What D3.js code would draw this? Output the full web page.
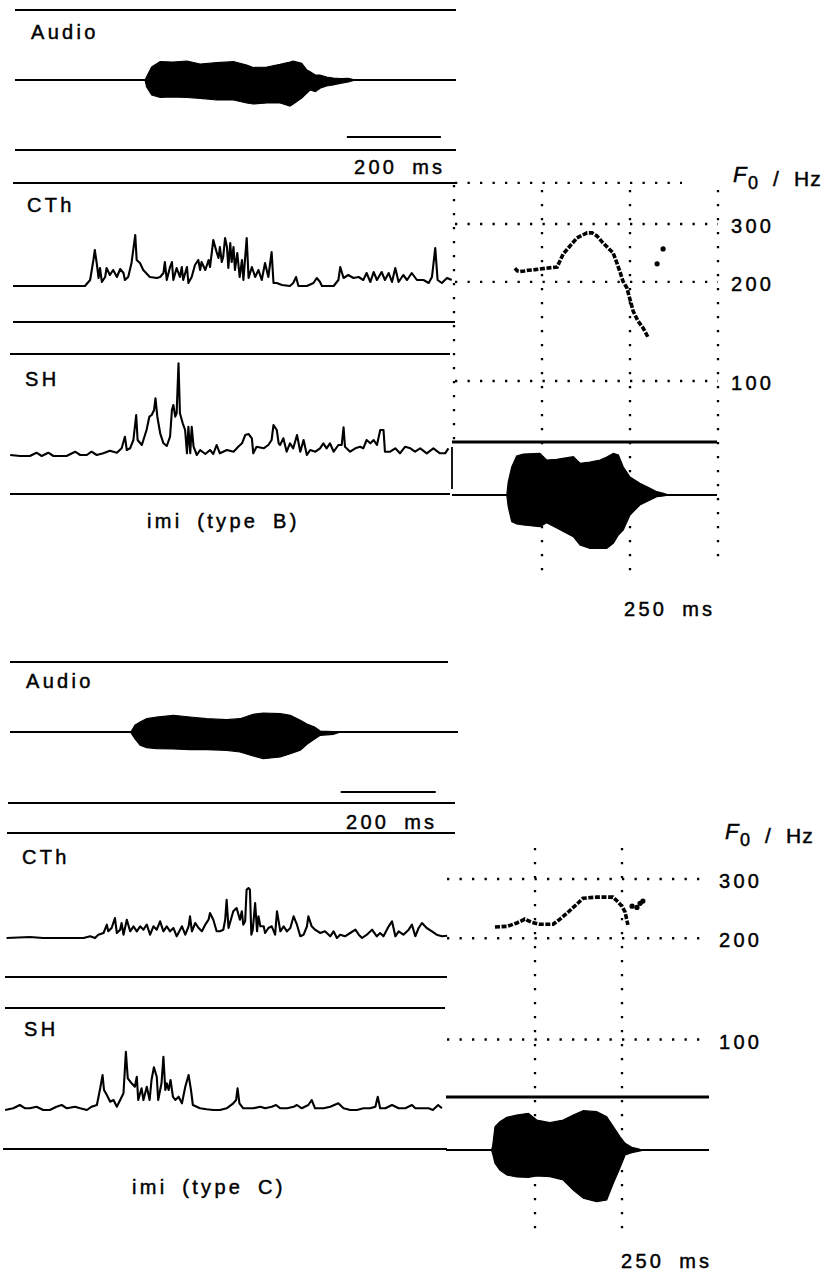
<!DOCTYPE html>
<html><head><meta charset="utf-8">
<script src="https://cdn.jsdelivr.net/npm/d3@7"></script>
<style>
body{margin:0;background:#fff;}
svg{display:block;}
text{font-family:"Liberation Sans",Arial,sans-serif;font-size:20px;letter-spacing:3.3px;word-spacing:6px;fill:#000;stroke:#000;stroke-width:0.45px;}
</style></head><body>
<svg id="c" width="834" height="1272"></svg>
<script>
// ---------- DATA ----------
const channelLabels = ["Audio", "CTh", "SH"];
const captions = ["imi (type B)", "imi (type C)"];
const f0Ticks = [100, 200, 300];
const f0TopGrid = 400;
const timeGridB = [0, 250, 500, 750];
const timeGridC = [250, 500];
const scaleBarB = [710, 910];   // ms (200 ms)
const scaleBarC = [700, 900];   // ms (200 ms)
const scaleBarLeftLabel = "200 ms";
const scaleBarRightLabel = "250 ms";

// audio envelopes: [ms, upper amplitude, lower amplitude]
const audioB = [[281,0,0],[284,3,6.7],[295,13,15],[313,18.3,17.3],[340,18,17],[370,19,17.5],[398,16,18.3],[433,17.3,20],[469,18.3,20],[497,15,23],[511,12.5,24],[540,13,23],[568,15.7,23],[589,18,26],[596,19,24],[614,16.7,18],[625,10,13],[632,8.3,10],[643,5,11.7],[653,5,8.3],[667,3,6],[681,2,5],[696,1.5,3.3],[713,1.7,2],[728,0,0]];
const audioBRight = [[150,0,0],[154,13,11.7],[164,28,26.7],[178,39,29],[197,41,30],[244,41.7,31.7],[263,35,27.7],[292,35.7,33],[339,38.3,41.7],[358,31.7,50],[386,33,53.3],[415,35,53.3],[434,38,53.3],[453,41.7,48],[467,40,40],[481,28,35],[500,18,20],[528,11.7,10],[557,6.7,5],[576,3.3,1.7],[595,1.7,1],[610,0,0]];
const audioC = [[258,0,0],[260,1,1.7],[267,6.7,6.7],[278,10,13.3],[292,13.3,15.7],[313,15,16.7],[348,16.7,17],[383,15,17.7],[418,13.3,17.7],[460,12.3,18.3],[488,13.3,20],[516,17.7,24],[537,19,26.7],[573,18.3,25],[594,16.7,21.7],[615,11.7,18.3],[629,8,12.3],[645,5,7],[657,1,3.3],[684,0.5,2.3],[700,0,0]];
const audioCRight = [[125,0,0],[128,3.3,3.3],[135,23.3,13.3],[149,28.3,20],[169,32.7,25],[197,35,27],[231,36.7,27.3],[255,30,26],[293,27.3,26.7],[331,30,30],[360,35,40],[389,39.3,48.3],[427,38.3,51.7],[456,33.3,50],[475,23.3,33.3],[494,13.3,18],[509,6.7,5],[528,2.7,2.7],[552,0.7,1],[565,0,0]];

// EMG traces: [ms, amplitude]
const cthB = [[0,0],[150,0],[153,0],[164,6],[171,26],[174,36],[178,23],[182,8],[185,18],[189,4],[196,9],[199,18],[206,11],[213,16],[221,9],[228,17],[235,13],[238,6],[245,9],[252,23],[260,51],[263,26],[270,23],[277,16],[291,9],[306,8],[313,9],[320,13],[323,24],[327,6],[334,19],[338,24],[341,6],[348,18],[355,9],[359,19],[362,6],[370,19],[373,3],[380,9],[387,21],[394,26],[398,16],[401,24],[409,16],[416,26],[419,19],[426,46],[430,39],[433,34],[437,28],[440,39],[444,24],[447,29],[451,48],[455,39],[458,18],[462,43],[465,24],[469,39],[472,16],[477,33],[482,9],[487,26],[490,6],[497,48],[501,8],[508,19],[515,9],[522,16],[529,6],[536,23],[543,9],[550,34],[554,3],[561,3],[572,1],[589,0],[596,3],[602,9],[607,0],[625,0],[639,3],[646,8],[653,4],[657,0],[682,0],[692,6],[696,19],[703,8],[713,11],[724,8],[735,9],[745,6],[752,13],[760,4],[767,14],[774,6],[784,14],[791,6],[799,13],[806,4],[813,18],[820,4],[830,11],[838,6],[848,13],[859,6],[873,6],[884,3],[891,9],[898,38],[903,6],[912,3],[923,8],[933,6]];
const shB = [[-6,0],[15,-1],[36,-1],[50,2.3],[61,-1],[75,2.3],[86,-1],[114,-1],[132,3.3],[143,0],[157,0],[167,3.3],[178,0],[192,1.7],[206,4.3],[221,2.3],[231,6.7],[238,18.3],[242,5],[249,6.7],[256,15],[262,40],[265,15],[274,10],[284,25],[290,38.3],[295,40],[300,45],[303,56.7],[307,38.3],[313,21.7],[320,11.7],[327,9],[334,18.3],[338,45],[341,50],[345,38.3],[348,41.7],[352,91.7],[355,41.7],[361,31.7],[366,25],[370,1.7],[373,28.3],[377,1.7],[380,28.3],[384,8.3],[391,0],[398,5],[409,1],[419,5],[426,1],[433,10],[440,1.7],[455,5],[469,3.3],[479,8.3],[487,11.7],[494,20],[501,21],[508,16.7],[511,1.7],[518,8.3],[533,6.7],[543,10],[550,15],[554,30],[561,25],[565,11.7],[568,10],[575,16.7],[582,3.3],[589,11.7],[596,6.7],[604,20],[611,3.3],[618,15],[625,0],[632,5],[643,3.3],[653,6.7],[660,11.7],[667,6.7],[674,11.7],[682,3.3],[692,10],[699,10],[703,27.7],[706,8.3],[717,3.3],[728,6.7],[738,8.3],[745,6.7],[752,15],[760,11.7],[767,15],[774,10],[781,25],[788,25],[791,3.3],[802,3.3],[813,6.7],[823,1.7],[834,8.3],[845,6.7],[855,3.3],[866,6.7],[880,1.7],[894,6.7],[908,1.7],[919,1.7],[926,6.7]];
const cthC = [[-3,-1],[46,0],[74,-1],[159,-1],[173,0.7],[183,-1],[190,2.3],[201,4],[208,12.3],[211,5.7],[218,9],[225,19],[229,4],[236,7.3],[239,14],[243,2.3],[250,17.3],[257,5.7],[264,10.7],[271,5.7],[278,10.7],[285,7.3],[292,12.3],[299,2.3],[306,10.7],[313,7.3],[320,15.7],[327,5.7],[334,10.7],[341,5.7],[348,9],[355,0.7],[366,10.7],[373,2.3],[380,10.7],[383,20.7],[387,5.7],[394,14],[401,9],[408,5.7],[415,12.3],[422,17.3],[425,24],[432,17.3],[439,5.7],[446,5.7],[453,7.3],[457,17.3],[460,37.3],[464,9],[467,14],[474,25.7],[481,29],[488,17.3],[492,25.7],[495,12.3],[499,15.7],[502,47.3],[506,49],[509,47.3],[512,2.3],[515,7.3],[520,34],[524,5.7],[527,20.7],[531,10.7],[538,10.7],[541,4],[548,9],[555,10.7],[562,2.3],[566,25.7],[573,5.7],[580,10.7],[587,5.7],[594,9],[601,20.7],[608,12.3],[615,0.7],[622,2.3],[629,10.7],[632,20.7],[639,10.7],[646,7.3],[657,4],[667,5.7],[678,0.7],[685,5.7],[692,-1],[699,2.3],[709,0.7],[720,4],[731,7.3],[738,2.3],[745,-1],[755,2.3],[766,7.3],[776,0.7],[783,4],[790,0.7],[801,10.7],[808,15.7],[815,0.7],[822,5.7],[832,2.3],[843,7.3],[850,12.3],[857,0.7],[864,9],[871,14],[881,9],[892,5.7],[902,2.3],[913,0.7],[924,1.3]];
const shC = [[-6,0],[11,1.7],[25,5],[36,1.7],[46,1.7],[60,3.3],[74,0],[88,0],[102,3.3],[113,5],[124,1.7],[141,3.3],[152,1.7],[166,0],[176,3.3],[187,5],[194,21.7],[199,35],[202,20],[208,15],[215,8.3],[222,10],[229,3.3],[236,10],[243,16.7],[248,58.3],[252,31.7],[260,26.7],[267,23.3],[271,33.3],[274,10],[281,21.7],[285,10],[292,23.3],[298,10],[302,30],[307,42.7],[313,33.3],[316,10],[323,26.7],[327,53.3],[331,20],[334,26.7],[338,20],[342,30],[347,13.3],[352,10],[359,13.3],[366,6.7],[373,23.3],[380,35],[385,20],[389,5],[397,3.3],[404,1.7],[418,0.7],[432,0],[446,0],[460,1.7],[474,6.7],[480,10],[483,21.7],[487,6.7],[495,1.7],[516,1.7],[531,3.3],[541,1.7],[555,3.3],[564,5],[573,1.7],[587,1.7],[601,3.3],[608,5],[618,1.7],[632,5],[639,10],[646,1.7],[664,1.7],[678,3.3],[695,6.7],[706,1.7],[720,0],[734,0],[748,1.7],[762,1.7],[773,3.3],[778,13.3],[783,1.7],[794,1.7],[808,5],[822,1.7],[836,1.7],[850,5],[857,1.7],[871,1.7],[885,1.7],[894,0],[905,5],[913,1.7]];

// F0 contours: [ms, Hz]
const f0B = [[173,220],[180,216],[188,215],[200,216],[210,217],[230,218],[259,220],[293,222],[310,243],[349,272],[378,282],[392,282],[406,276],[423,263],[452,245],[463,228],[472,214],[480,201],[491,192],[500,177],[509,163],[523,152],[537,145],[551,136]];
const f0BExtra = [[577,227],[594,252]];
const f0C = [[135,216],[170,217],[198,222],[221,228],[241,223],[264,220],[302,220],[322,228],[345,239],[371,253],[388,263],[428,265],[474,265],[486,258],[500,249],[509,239],[517,219]];
const f0CExtra = [[529,249],[543,247],[552,254],[560,258]];

// ---------- DRAWING ----------
const svg = d3.select("#c");
const g = svg.append("g");
const K = "#000";

function hline(x1, x2, y, w) {
  g.append("line").attr("x1", x1).attr("x2", x2).attr("y1", y).attr("y2", y)
    .attr("stroke", K).attr("stroke-width", w || 2.2);
}
function label(txt, x, y) {
  g.append("text").attr("x", x).attr("y", y).text(txt);
}
function trace(data, xs, base) {
  const ys = d3.scaleLinear([0, 100], [base, base - 100]);
  const ln = d3.line().x(d => xs(d[0])).y(d => ys(d[1]));
  g.append("path").attr("d", ln(data)).attr("fill", "none")
    .attr("stroke", K).attr("stroke-width", 2.1).attr("stroke-linejoin", "round");
}
function audio(data, xs, base) {
  const ys = d3.scaleLinear([0, 100], [base, base - 100]);
  const ar = d3.area().x(d => xs(d[0])).y1(d => ys(d[1])).y0(d => ys(-d[2]));
  g.append("path").attr("d", ar(data)).attr("fill", K).attr("stroke", K).attr("stroke-width", 1.2);
}
function f0Label(x, y) {
  const t = g.append("text").attr("y", y).style("letter-spacing", "0");
  t.append("tspan").attr("x", x).attr("dy", -4).attr("font-style", "italic").style("font-size", "22px").text("F");
  t.append("tspan").attr("x", x + 15).attr("dy", 7).style("font-size", "18px").text("0");
  t.append("tspan").attr("x", x + 40).attr("dy", -3).style("font-size", "21px").text("/");
  t.append("tspan").attr("x", x + 61).attr("dy", 0).style("font-size", "21px").style("letter-spacing", "1px").text("Hz");
}

function figure(c) {
  const xl = d3.scaleLinear(c.leftDomain, c.leftRange);
  const xr = d3.scaleLinear([0, 750], c.rightRange);
  const yF = d3.scaleLog([100, 300], c.f0Range);

  c.frame.forEach(f => hline(f[0], f[1], f[2]));
  label(channelLabels[0], c.lab[0][0], c.lab[0][1]);
  label(channelLabels[1], c.lab[1][0], c.lab[1][1]);
  label(channelLabels[2], c.lab[2][0], c.lab[2][1]);
  label(c.caption, c.capPos[0], c.capPos[1]);
  hline(xl(c.bar[0]), xl(c.bar[1]), c.barY, 2.2);
  label(scaleBarLeftLabel, c.barLab[0], c.barLab[1]);

  hline(c.audioX[0], c.audioX[1], c.audioBase, 2);
  audio(c.audio, xl, c.audioBase);
  trace(c.cth, xl, c.cthBase);
  trace(c.sh, xl, c.shBase);

  const dotH = "2.3,10.2", dotV = "2.3,11.7";
  f0Ticks.forEach(f => {
    g.append("line").attr("x1", c.gridX[0]).attr("x2", c.gridX[1])
      .attr("y1", yF(f)).attr("y2", yF(f))
      .attr("stroke", K).attr("stroke-width", 2.3).attr("stroke-dasharray", dotH);
    g.append("text").attr("x", c.tickX).attr("y", yF(f) + 9).text(f);
  });
  if (c.topGrid) {
    g.append("line").attr("x1", c.gridX[0]).attr("x2", c.topGridX2)
      .attr("y1", yF(f0TopGrid)).attr("y2", yF(f0TopGrid))
      .attr("stroke", K).attr("stroke-width", 2.3).attr("stroke-dasharray", dotH);
  }
  c.timeGrid.forEach((t, i) => {
    const ext = c.vExt[i];
    g.append("line").attr("x1", xr(t)).attr("x2", xr(t)).attr("y1", ext[0]).attr("y2", ext[1])
      .attr("stroke", K).attr("stroke-width", 2.3).attr("stroke-dasharray", dotV);
  });
  f0Label(c.f0Lab[0], c.f0Lab[1]);

  const fl = d3.line().x(d => xr(d[0])).y(d => yF(d[1]));
  g.append("path").attr("d", fl(c.f0)).attr("fill", "none").attr("stroke", K)
    .attr("stroke-width", 3.6).attr("stroke-dasharray", "5,1.6");
  g.selectAll(null).data(c.f0Extra).enter().append("circle")
    .attr("cx", d => xr(d[0])).attr("cy", d => yF(d[1])).attr("r", 2.6).attr("fill", K);

  hline(c.thick[0], c.thick[1], c.thick[2], 3);
  hline(c.rAudioX[0], c.rAudioX[1], c.rAudioBase, 2);
  audio(c.audioR, xr, c.rAudioBase);
  label(scaleBarRightLabel, c.r250[0], c.r250[1]);
  if (c.extraV) {
    g.append("line").attr("x1", c.extraV[0]).attr("x2", c.extraV[0]).attr("y1", c.extraV[1]).attr("y2", c.extraV[2])
      .attr("stroke", K).attr("stroke-width", 1.8);
  }
}

figure({
  leftDomain: [0, 940], leftRange: [13, 455],
  rightRange: [454, 718], f0Range: [381, 224],
  frame: [[15, 456, 10], [15, 456, 150], [13, 455, 183], [13, 455, 322], [10, 450, 354], [10, 450, 494]],
  lab: [[31, 39], [27, 212], [25, 386]],
  caption: captions[0], capPos: [147, 528],
  bar: scaleBarB, barY: 137, barLab: [354, 174],
  audioX: [15, 456], audioBase: 80, audio: audioB,
  cth: cthB, cthBase: 286, sh: shB, shBase: 455,
  gridX: [455, 718], tickX: 731, topGrid: true, topGridX2: 682,
  timeGrid: timeGridB, vExt: [[185, 440], [190, 580], [190, 580], [190, 567]],
  f0Lab: [733, 186], f0: f0B, f0Extra: f0BExtra,
  thick: [452, 717, 442], rAudioX: [452, 717], rAudioBase: 495, audioR: audioBRight,
  r250: [624, 616], extraV: [452, 447, 489]
});

figure({
  leftDomain: [0, 930], leftRange: [8, 450],
  rightRange: [448, 709], f0Range: [1039.5, 879],
  frame: [[10, 448, 662], [8, 455, 803], [7, 455, 833], [5, 447, 977], [5, 445, 1008], [3, 447, 1149]],
  lab: [[26, 688], [22, 864], [24, 1036]],
  caption: captions[1], capPos: [132, 1194],
  bar: scaleBarC, barY: 792, barLab: [346, 829],
  audioX: [10, 458], audioBase: 732, audio: audioC,
  cth: cthC, cthBase: 937, sh: shC, shBase: 1110,
  gridX: [447, 700], tickX: 719, topGrid: false,
  timeGrid: timeGridC, vExt: [[848, 1237], [848, 1237]],
  f0Lab: [725, 843], f0: f0C, f0Extra: f0CExtra,
  thick: [446, 709, 1097], rAudioX: [446, 709], rAudioBase: 1150, audioR: audioCRight,
  r250: [621, 1268], extraV: null
});
</script>
</body></html>
